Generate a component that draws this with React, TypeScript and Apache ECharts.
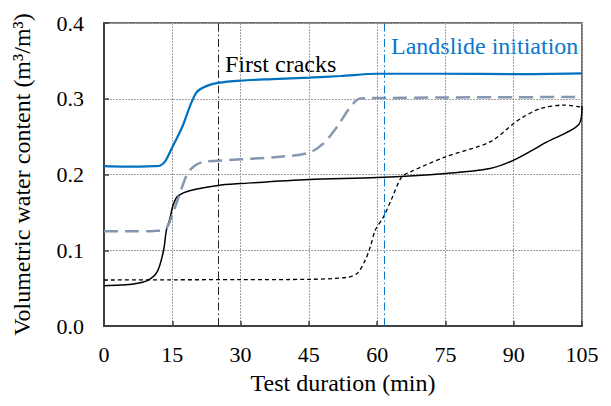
import React, { useEffect, useRef } from "react";
import * as echarts from "echarts";

const xTicks = [0, 15, 30, 45, 60, 75, 90, 105];
const yTicks = [0.0, 0.1, 0.2, 0.3, 0.4];

const blueSolid: [number, number][] = [
  [0, 0.211], [4, 0.2105], [8, 0.2105], [11, 0.211], [12.4, 0.212], [13.5, 0.218],
  [15, 0.236], [17.2, 0.263], [19, 0.292], [20.4, 0.309], [22.6, 0.317], [25, 0.321],
  [30, 0.324], [37, 0.326], [45, 0.328], [52, 0.330], [60, 0.333], [75, 0.333],
  [90, 0.3325], [105, 0.3335],
];

const grayDashed: [number, number][] = [
  [0, 0.125], [6, 0.125], [11, 0.1255], [13.3, 0.127], [14.2, 0.134], [15.2, 0.15],
  [16.5, 0.172], [18.3, 0.201], [20, 0.212], [21.9, 0.2168], [25, 0.218], [30, 0.22],
  [38, 0.223], [45, 0.2287], [48.2, 0.241], [51.2, 0.263], [54.1, 0.289], [56.3, 0.3004],
  [62, 0.301], [75, 0.3017], [90, 0.302], [105, 0.3025],
];

const blackSolid: [number, number][] = [
  [0, 0.0532], [3.5, 0.054], [6.5, 0.0554], [9.5, 0.0598], [11.7, 0.0717],
  [13.1, 0.1003], [13.7, 0.1266], [14.4, 0.14], [15.2, 0.16], [16.2, 0.1715],
  [19, 0.179], [25, 0.1856], [30, 0.188], [45, 0.1935], [60, 0.196], [75, 0.2014],
  [84.8, 0.208], [90, 0.219], [97.3, 0.243], [104.3, 0.266], [105, 0.29],
];

const blackDashed: [number, number][] = [
  [0, 0.0607], [15, 0.061], [30, 0.0612], [45, 0.0616], [53.4, 0.0642], [55.6, 0.0695],
  [57.4, 0.087], [58.5, 0.1046], [59.6, 0.1266], [61.4, 0.144], [63.2, 0.168],
  [65.4, 0.197], [67.3, 0.2035], [75, 0.2233], [84.8, 0.243], [90, 0.2674],
  [92.1, 0.276], [95.8, 0.287], [100.9, 0.2916], [105, 0.289],
];

const firstCracksX = 25;
const landslideX = 61.6;

const FONT = "'Liberation Serif', 'Times New Roman', serif";

export default function App() {
  const ref = useRef<HTMLDivElement>(null);
  useEffect(() => {
    document.body.style.margin = "0";
    const chart = echarts.init(ref.current!, null, { renderer: "svg" });
    const axisLineColor = "#404040";
    chart.setOption({
      animation: false,
      backgroundColor: "#fff",
      textStyle: { fontFamily: FONT },
      grid: {
        left: 104, right: 29, top: 23, bottom: 80,
        show: true, borderColor: axisLineColor, borderWidth: 1.5,
      },
      xAxis: {
        type: "value", min: 0, max: 105, interval: 15,
        name: "Test duration (min)", nameLocation: "middle", nameGap: 45,
        nameTextStyle: { fontFamily: FONT, fontSize: 24, color: "#000" },
        axisLine: { show: true, lineStyle: { color: axisLineColor, width: 2 } },
        axisTick: { show: true, inside: true, length: 5, lineStyle: { color: axisLineColor, width: 1.5 } },
        axisLabel: { fontFamily: FONT, fontSize: 22, color: "#000", margin: 17,
          formatter: (v: number) => (xTicks.includes(v) ? String(v) : "") },
        splitLine: { show: true, lineStyle: { color: "#a0a0a0", type: [2, 1], width: 1 } },
      },
      yAxis: {
        type: "value", min: 0, max: 0.4, interval: 0.1,
        name: "Volumetric water content (m³/m³)", nameLocation: "middle", nameGap: 70,
        nameRotate: 90,
        nameTextStyle: { fontFamily: FONT, fontSize: 24, color: "#000" },
        axisLine: { show: true, lineStyle: { color: axisLineColor, width: 2 } },
        axisTick: { show: true, inside: true, length: 5, lineStyle: { color: axisLineColor, width: 1.5 } },
        axisLabel: { fontFamily: FONT, fontSize: 22, color: "#000", margin: 20,
          formatter: (v: number) => {
            const t = yTicks.find((y) => Math.abs(y - v) < 1e-6);
            return t === undefined ? "" : t.toFixed(1);
          } },
        splitLine: { show: true, lineStyle: { color: "#a0a0a0", type: [2, 1], width: 1 } },
      },
      series: [
        {
          type: "line", data: blackDashed, smooth: 0.3, symbol: "none",
          lineStyle: { color: "#000", width: 1.3, type: [4, 3] },
          z: 3,
        },
        {
          type: "line", data: blackSolid, smooth: 0.3, symbol: "none",
          lineStyle: { color: "#000", width: 1.5 },
          z: 3,
          markLine: {
            silent: true, symbol: "none", label: { show: false },
            data: [
              { xAxis: firstCracksX, lineStyle: { color: "#222", width: 1, type: [8, 3, 1.5, 3] } },
              { xAxis: landslideX, lineStyle: { color: "#0a78cc", width: 1, type: [8, 3, 1.5, 3] } },
            ],
          },
        },
        {
          type: "line", data: grayDashed, smooth: 0.3, symbol: "none",
          lineStyle: { color: "#8497b0", width: 2.5, type: [14, 7] },
          z: 4,
        },
        {
          type: "line", data: blueSolid, smooth: 0.3, symbol: "none",
          lineStyle: { color: "#0070c0", width: 2.2 },
          z: 5,
        },
      ],
      graphic: [
        { type: "text", left: 225, top: 52,
          style: { text: "First cracks", fontFamily: FONT, fontSize: 24, fill: "#000" } },
        { type: "text", left: 391, top: 34,
          style: { text: "Landslide initiation", fontFamily: FONT, fontSize: 24, fill: "#0a78cc" } },
      ],
    });
    return () => chart.dispose();
  }, []);
  return <div ref={ref} style={{ width: 611, height: 406 }} />;
}
